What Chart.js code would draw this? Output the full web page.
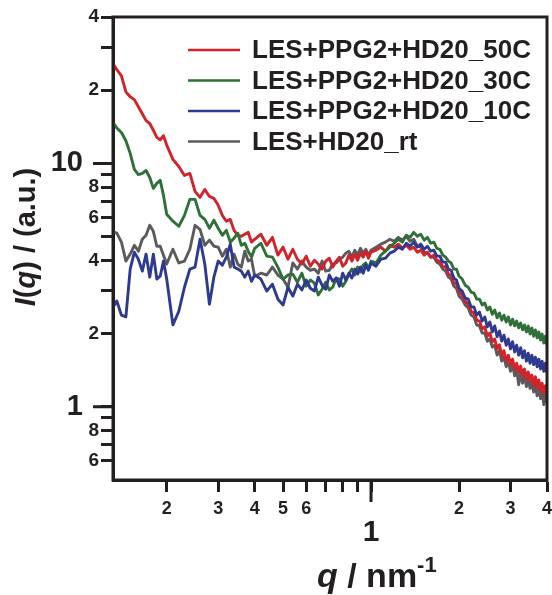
<!DOCTYPE html>
<html>
<head>
<meta charset="utf-8">
<script src="https://cdn.jsdelivr.net/npm/chart.js@4.4.1/dist/chart.umd.min.js"></script>
<style>
  html, body { margin: 0; padding: 0; background: #fff; }
  canvas { display: block; }
</style>
</head>
<body>
<canvas id="saxs" width="552" height="595"></canvas>
<script>
// q in nm^-1, shared by all four curves
const qValues = [
  0.13, 0.135, 0.14, 0.145, 0.15, 0.155, 0.16, 0.165, 0.17, 0.175, 0.18, 0.185, 0.19, 0.195,
  0.20, 0.21, 0.22, 0.23, 0.24, 0.25, 0.26, 0.27, 0.28, 0.29, 0.30, 0.31, 0.32, 0.33, 0.34, 0.35, 0.36, 0.37, 0.38, 0.39,
  0.40, 0.42, 0.44, 0.46, 0.48, 0.50, 0.52, 0.54, 0.56, 0.58, 0.60, 0.62, 0.64, 0.66, 0.68, 0.70, 0.72, 0.74, 0.76, 0.78,
  0.80, 0.82, 0.84, 0.86, 0.88, 0.90, 0.92, 0.94, 0.96, 0.98,
  1.00, 1.04, 1.08, 1.12, 1.16, 1.20, 1.24, 1.28, 1.32, 1.36, 1.40, 1.44, 1.48, 1.52, 1.56, 1.60, 1.64, 1.68, 1.72, 1.76,
  1.80, 1.84, 1.88, 1.92, 1.96,
  2.00, 2.05, 2.10, 2.15, 2.20, 2.25, 2.30, 2.35, 2.40, 2.45, 2.50, 2.55, 2.60, 2.65, 2.70, 2.75, 2.80, 2.85, 2.90, 2.95,
  3.00, 3.05, 3.10, 3.15, 3.20, 3.25, 3.30, 3.35, 3.40, 3.45, 3.50, 3.55, 3.60, 3.65, 3.70, 3.75, 3.80, 3.85, 3.90, 3.95, 4.00
];

// I(q) in a.u.
const i50C = [
  26.2, 24.3, 22.9, 19.7, 18.8, 18.3, 17.1, 16.0, 15.0, 14.6, 13.7, 12.8, 12.5, 13.0,
  11.9, 10.4, 9.72, 8.93, 9.1, 7.68, 7.26, 7.82, 7.32, 7.19, 6.73, 6.12, 5.79, 5.89, 5.31, 5.07, 5.02, 5.12, 5.21, 4.75,
  4.88, 5.12, 4.61, 4.97, 4.20, 4.53, 4.04, 4.44, 4.04, 3.86, 4.16, 3.78, 4.00, 3.86, 3.68, 3.97, 4.08, 3.75, 3.97, 4.12,
  3.78, 3.90, 4.20, 3.97, 4.24, 4.00, 4.28, 4.12, 4.36, 4.08,
  4.32, 4.40, 4.53, 4.36, 4.61, 4.53, 4.66, 4.49, 4.61, 4.44, 4.53, 4.32, 4.40, 4.20, 4.32, 4.12, 4.20, 4.00, 3.97, 3.75,
  3.78, 3.51, 3.48, 3.22, 3.22,
  2.99, 2.88, 2.72, 2.64, 2.47, 2.43, 2.27, 2.25, 2.09, 2.13, 1.95, 2.01, 1.85, 1.90, 1.73, 1.80, 1.62, 1.70, 1.54, 1.63,
  1.49, 1.57, 1.43, 1.51, 1.39, 1.47, 1.34, 1.43, 1.30, 1.39, 1.28, 1.35, 1.23, 1.33, 1.20, 1.29, 1.17, 1.25, 1.13, 1.22, 1.12
];
const i30C = [
  14.9, 14.0, 13.4, 12.4, 11.0, 9.45, 9.0, 9.1, 9.36, 8.76, 7.90, 8.28, 8.52, 7.39,
  6.18, 5.79, 5.52, 6.12, 7.12, 7.12, 6.12, 5.89, 5.42, 5.84, 5.42, 5.07, 5.31, 4.75, 4.93, 5.17, 4.61, 4.70, 4.36, 4.12,
  4.48, 4.70, 4.16, 4.12, 3.75, 3.35, 3.48, 3.51, 3.25, 3.54, 3.13, 3.32, 3.22, 2.88, 3.04, 3.25, 3.02, 3.10, 3.38, 3.35,
  3.13, 3.28, 3.51, 3.68, 3.48, 3.75, 3.58, 3.82, 3.90, 3.68,
  3.97, 3.90, 4.20, 4.36, 4.53, 4.70, 4.88, 4.75, 5.07, 4.97, 5.21, 5.02, 5.12, 4.84, 4.97, 4.70, 4.75, 4.48, 4.44, 4.20,
  4.12, 3.97, 3.90, 3.68, 3.68,
  3.44, 3.35, 3.16, 3.10, 2.96, 2.93, 2.77, 2.77, 2.62, 2.67, 2.50, 2.57, 2.40, 2.50, 2.32, 2.43, 2.27, 2.38, 2.23, 2.34,
  2.17, 2.29, 2.15, 2.25, 2.11, 2.21, 2.07, 2.17, 2.03, 2.15, 1.99, 2.11, 1.95, 2.07, 1.92, 2.03, 1.88, 1.99, 1.83, 1.95, 1.79
];
const i10C = [
  2.52, 2.72, 2.38, 2.34, 3.68, 4.32, 4.04, 3.61, 4.24, 3.41, 4.24, 3.35, 3.44, 3.97,
  3.35, 2.17, 2.47, 3.10, 3.68, 3.75, 4.88, 3.86, 2.64, 3.41, 3.97, 3.82, 4.12, 4.66, 3.75, 3.68, 3.61, 3.41, 3.61, 3.28,
  3.48, 3.35, 2.99, 3.19, 2.77, 2.62, 3.10, 2.85, 3.19, 3.02, 3.32, 3.07, 2.99, 3.41, 3.16, 3.04, 3.48, 3.28, 3.38, 3.13,
  3.54, 3.32, 3.54, 3.38, 3.68, 3.51, 3.75, 3.54, 3.82, 3.64,
  3.90, 3.78, 4.04, 4.08, 4.28, 4.36, 4.53, 4.44, 4.70, 4.57, 4.75, 4.53, 4.66, 4.44, 4.57, 4.36, 4.40, 4.16, 4.16, 3.93,
  3.93, 3.68, 3.64, 3.38, 3.32,
  3.07, 2.99, 2.80, 2.77, 2.57, 2.57, 2.38, 2.45, 2.25, 2.34, 2.13, 2.23, 2.03, 2.15, 1.94, 2.05, 1.86, 1.97, 1.79, 1.90,
  1.73, 1.85, 1.68, 1.79, 1.63, 1.75, 1.59, 1.70, 1.54, 1.66, 1.51, 1.63, 1.49, 1.60, 1.46, 1.57, 1.43, 1.54, 1.40, 1.51, 1.38
];
const iRt = [
  5.26, 5.17, 4.75, 3.97, 4.24, 4.61, 4.36, 4.88, 5.07, 5.57, 5.26, 4.57, 4.57, 4.20,
  3.86, 4.44, 3.90, 3.97, 4.44, 5.57, 5.36, 4.61, 4.84, 4.57, 4.53, 4.16, 4.44, 3.75, 4.24, 3.86, 3.75, 4.36, 3.97, 4.04,
  3.44, 3.54, 3.48, 3.75, 3.48, 3.35, 3.10, 3.90, 3.68, 3.97, 3.75, 3.64, 3.68, 3.54, 3.97, 3.61, 3.64, 3.86, 3.90, 4.04,
  4.12, 4.28, 4.36, 4.12, 4.40, 4.20, 4.48, 4.28, 4.44, 4.20,
  4.40, 4.53, 4.66, 4.75, 4.88, 4.79, 4.97, 4.84, 5.02, 4.79, 4.88, 4.57, 4.53, 4.32, 4.28, 4.12, 4.12, 3.93, 3.86, 3.68,
  3.61, 3.41, 3.35, 3.13, 3.07,
  2.85, 2.77, 2.62, 2.55, 2.38, 2.34, 2.17, 2.15, 2.01, 2.01, 1.86, 1.90, 1.76, 1.79, 1.63, 1.70, 1.54, 1.60, 1.46, 1.54,
  1.40, 1.49, 1.34, 1.43, 1.23, 1.38, 1.25, 1.34, 1.21, 1.30, 1.19, 1.27, 1.15, 1.23, 1.11, 1.20, 1.08, 1.16, 1.02, 1.13, 1.04
];

const seriesLabels = ['LES+PPG2+HD20_50C', 'LES+PPG2+HD20_30C', 'LES+PPG2+HD20_10C', 'LES+HD20_rt'];
const seriesColors = ['#D2232A', '#2E7037', '#2D3A8F', '#5B5B5D'];
const seriesOrder = [2, 1, 0, 3]; // blue on top, grey at the bottom

const xTickValues = [0.2, 0.3, 0.4, 0.5, 0.6, 0.7, 0.8, 0.9, 1, 2, 3, 4];
const xTickLabels = ['2', '3', '4', '5', '6', '', '', '', '1', '2', '3', '4'];
const yTickValues = [0.6, 0.7, 0.8, 0.9, 1, 2, 3, 4, 5, 6, 7, 8, 9, 10, 20, 30, 40];
const yTickLabels = ['6', '', '8', '', '1', '2', '', '4', '', '6', '', '8', '', '10', '2', '', '4'];
const decadeX = [1];
const decadeY = [1, 10];

const INK = '#231F20';
const FONT = "'Liberation Sans', Arial, sans-serif";

const allSeries = [i50C, i30C, i10C, iRt];

const frameAndText = {
  id: 'frameAndText',
  afterDraw(chart) {
    const { ctx, chartArea: a, scales } = chart;
    ctx.save();
    ctx.strokeStyle = INK;
    ctx.lineWidth = 3;
    ctx.strokeRect(a.left, a.top, a.right - a.left, a.bottom - a.top);

    // longer ticks at the decades
    ctx.beginPath();
    decadeX.forEach(v => {
      const px = scales.x.getPixelForValue(v);
      ctx.moveTo(px, a.bottom); ctx.lineTo(px, a.bottom + 22);
    });
    decadeY.forEach(v => {
      const py = scales.y.getPixelForValue(v);
      ctx.moveTo(a.left, py); ctx.lineTo(a.left - 20, py);
    });
    ctx.stroke();

    // legend, inside the top right of the plot
    ctx.textBaseline = 'middle';
    ctx.textAlign = 'left';
    ctx.font = 'bold 26px ' + FONT;
    chart.data.datasets.forEach((ds, i) => {
      const y = a.top + 33 + i * 30.5;
      ctx.strokeStyle = ds.borderColor;
      ctx.lineWidth = 2.7;
      ctx.beginPath();
      ctx.moveTo(a.left + 75, y); ctx.lineTo(a.left + 127, y);
      ctx.stroke();
      ctx.fillStyle = INK;
      ctx.fillText(ds.label, a.left + 139, y + 1);
    });

    // axis titles with italic parts
    const bold = s => 'bold ' + s + 'px ' + FONT;
    const ital = s => 'italic bold ' + s + 'px ' + FONT;
    const run = (parts, x, y) => {
      parts.forEach(p => {
        ctx.font = p.f;
        ctx.fillText(p.t, x, y + (p.dy || 0));
        x += ctx.measureText(p.t).width;
      });
    };
    const width = parts => parts.reduce((w, p) => { ctx.font = p.f; return w + ctx.measureText(p.t).width; }, 0);

    ctx.fillStyle = INK;
    ctx.textBaseline = 'alphabetic';
    const xTitle = [
      { t: 'q', f: ital(34) },
      { t: ' / nm', f: bold(34) },
      { t: '-1', f: bold(22), dy: -15 }
    ];
    run(xTitle, 317, 587);

    const yTitle = [
      { t: 'I', f: ital(29) },
      { t: '(', f: bold(29) },
      { t: 'q', f: ital(29) },
      { t: ') / (a.u.)', f: bold(29) }
    ];
    ctx.save();
    ctx.translate(35, 237);
    ctx.rotate(-Math.PI / 2);
    run(yTitle, -width(yTitle) / 2, 0);
    ctx.restore();

    ctx.restore();
  }
};

new Chart(document.getElementById('saxs'), {
  type: 'line',
  data: {
    datasets: allSeries.map((vals, k) => ({
      label: seriesLabels[k],
      data: qValues.map((q, i) => ({ x: q, y: vals[i] })),
      borderColor: seriesColors[k],
      borderWidth: 2.9,
      pointRadius: 0,
      tension: 0,
      fill: false,
      order: seriesOrder[k],
      borderJoinStyle: 'round'
    }))
  },
  options: {
    responsive: false,
    animation: false,
    events: [],
    layout: { padding: { top: 17, right: 5, left: 0, bottom: 0 } },
    plugins: { legend: { display: false }, tooltip: { enabled: false } },
    scales: {
      x: {
        type: 'logarithmic',
        min: 0.131,
        max: 4,
        afterBuildTicks: s => { s.ticks = xTickValues.map(v => ({ value: v })); },
        afterFit: s => { s.height = 115; s.paddingLeft = 0; s.paddingRight = 0; },
        border: { display: true, color: INK, width: 3 },
        grid: { drawOnChartArea: false, drawTicks: true, tickLength: 12, tickWidth: 3, tickColor: INK },
        ticks: {
          autoSkip: false,
          maxRotation: 0,
          padding: 6,
          color: INK,
          callback: (v, i) => (xTickValues[i] === 1 ? ['', xTickLabels[i]] : xTickLabels[i]),
          font: c => (c.tick && c.tick.value === 1)
            ? { family: FONT, size: 30, weight: 'bold', lineHeight: 0.78 }
            : { family: FONT, size: 18, weight: 'bold' }
        }
      },
      y: {
        type: 'logarithmic',
        min: 0.5,
        max: 40,
        afterBuildTicks: s => { s.ticks = yTickValues.map(v => ({ value: v })); },
        afterFit: s => { s.width = 113; s.paddingTop = 0; s.paddingBottom = 0; },
        border: { display: true, color: INK, width: 3 },
        grid: { drawOnChartArea: false, drawTicks: true, tickLength: 12, tickWidth: 3, tickColor: INK },
        ticks: {
          autoSkip: false,
          padding: 2,
          color: INK,
          callback: (v, i) => (decadeY.includes(yTickValues[i]) ? yTickLabels[i] + '  ' : yTickLabels[i]),
          font: c => (c.tick && decadeY.includes(c.tick.value))
            ? { family: FONT, size: 29, weight: 'bold' }
            : { family: FONT, size: 19, weight: 'bold' }
        }
      }
    }
  },
  plugins: [frameAndText]
});
</script>
</body>
</html>
